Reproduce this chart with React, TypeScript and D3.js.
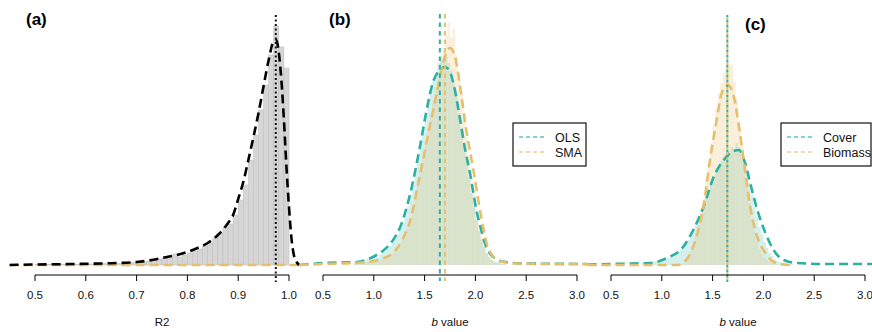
import * as d3 from "d3";

// ---- data ----

// (a) R2 histogram, bins of 0.01 starting at 0.50
const r2BinStart = 0.5;
const r2BinWidth = 0.01;
const r2Hist = [
  0.05, 0.05, 0.05, 0.05, 0.05, 0.05, 0.05, 0.1, 0.05, 0.1,
  0.1, 0.1, 0.1, 0.15, 0.1, 0.2, 0.15, 0.2, 0.2, 0.25,
  0.25, 0.3, 0.4, 0.5, 0.6, 0.7, 0.7, 1.1, 0.8, 1.0,
  1.2, 1.4, 1.6, 1.9, 2.2, 2.7, 3.2, 3.8, 4.1, 5.0,
  6.5, 8.0, 10.5, 13.0, 15.5, 18.0, 21.0, 23.9, 21.8, 19.7,
];
const r2DensX = [0.45, 0.5, 0.55, 0.6, 0.65, 0.7, 0.73, 0.76, 0.79, 0.82, 0.84, 0.86, 0.88, 0.89, 0.9, 0.91, 0.92, 0.93, 0.94, 0.95, 0.96, 0.97, 0.975, 0.98, 0.985, 0.99, 0.995, 1.0, 1.005, 1.01, 1.015, 1.02];
const r2DensY = [0, 0.05, 0.08, 0.12, 0.18, 0.3, 0.5, 0.8, 1.15, 1.7, 2.2, 3.0, 4.2, 5.0, 6.6, 8.3, 10.5, 12.8, 15.2, 17.9, 20.5, 22.4, 22.5, 21.2, 18.5, 14.5, 9.8, 5.8, 2.6, 0.9, 0.3, 0];
const r2Median = 0.974;

// (b) and (c) b-value histograms, bins of 0.025 starting at 0.80
const bBinStart = 0.8;
const bBinWidth = 0.025;
const olsHist = [
  0.03, 0.04, 0.03, 0.05, 0.04, 0.06, 0.05, 0.07, 0.08, 0.07,
  0.10, 0.12, 0.13, 0.17, 0.19, 0.22, 0.27, 0.30, 0.36, 0.42,
  0.50, 0.58, 0.70, 0.80, 0.94, 1.06, 1.22, 1.36, 1.50, 1.62,
  1.74, 1.86, 1.92, 2.02, 2.08, 2.04, 2.10, 2.02, 1.94, 1.82,
  1.70, 1.52, 1.36, 1.20, 1.04, 0.88, 0.72, 0.58, 0.46, 0.34,
  0.25, 0.18, 0.12, 0.08, 0.05, 0.04, 0.03, 0.02, 0.01, 0.01,
];
const smaHist = [
  0.01, 0.02, 0.01, 0.02, 0.02, 0.03, 0.03, 0.03, 0.04, 0.04,
  0.05, 0.06, 0.07, 0.08, 0.09, 0.11, 0.13, 0.16, 0.20, 0.25,
  0.30, 0.37, 0.45, 0.56, 0.68, 0.80, 0.94, 1.08, 1.22, 1.36,
  1.50, 1.64, 1.78, 1.90, 2.04, 2.14, 2.30, 2.42, 2.28, 2.36,
  2.10, 1.92, 1.72, 1.50, 1.28, 1.08, 0.88, 0.70, 0.54, 0.40,
  0.28, 0.19, 0.12, 0.08, 0.05, 0.03, 0.02, 0.02, 0.01, 0.01,
];
const coverHist = [
  0.02, 0.02, 0.03, 0.02, 0.03, 0.04, 0.04, 0.05, 0.05, 0.06,
  0.07, 0.08, 0.10, 0.11, 0.13, 0.15, 0.18, 0.21, 0.25, 0.29,
  0.34, 0.40, 0.46, 0.52, 0.58, 0.66, 0.74, 0.82, 0.88, 0.94,
  1.00, 1.04, 1.08, 1.12, 1.14, 1.18, 1.16, 1.22, 1.18, 1.12,
  1.04, 0.94, 0.82, 0.70, 0.58, 0.48, 0.38, 0.30, 0.23, 0.17,
  0.12, 0.09, 0.06, 0.04, 0.03, 0.02, 0.02, 0.01, 0.01, 0.01,
];
const biomassHist = [
  0, 0, 0, 0, 0, 0, 0, 0, 0, 0,
  0, 0, 0, 0, 0, 0.01, 0.02, 0.04, 0.08, 0.14,
  0.20, 0.30, 0.40, 0.52, 0.66, 0.84, 1.02, 1.22, 1.40, 1.56,
  1.72, 1.82, 1.92, 1.98, 2.02, 2.00, 1.84, 1.66, 1.44, 1.20,
  1.00, 0.80, 0.62, 0.46, 0.34, 0.24, 0.16, 0.11, 0.07, 0.05,
  0.03, 0.02, 0.01, 0.01, 0, 0, 0, 0, 0, 0,
];

const olsDensX = [0.27, 0.5, 0.83, 0.99, 1.1, 1.19, 1.26, 1.36, 1.45, 1.52, 1.58, 1.65, 1.7, 1.75, 1.8, 1.85, 1.9, 1.95, 2.01, 2.05, 2.1, 2.14, 2.2, 2.27, 2.47, 3.1];
const olsDensY = [0, 0.02, 0.03, 0.08, 0.15, 0.25, 0.38, 0.72, 1.16, 1.55, 1.82, 1.95, 1.98, 1.93, 1.74, 1.45, 1.15, 0.9, 0.55, 0.38, 0.2, 0.12, 0.06, 0.035, 0.015, 0.01];
const smaDensX = [0.27, 0.5, 0.8, 1.0, 1.1, 1.19, 1.28, 1.36, 1.45, 1.55, 1.62, 1.68, 1.75, 1.8, 1.85, 1.91, 1.98, 2.05, 2.11, 2.17, 2.21, 2.34, 2.6, 3.1];
const smaDensY = [0, 0.01, 0.02, 0.04, 0.07, 0.12, 0.25, 0.45, 0.88, 1.38, 1.72, 2.02, 2.17, 2.08, 1.78, 1.35, 0.95, 0.52, 0.22, 0.09, 0.05, 0.02, 0.01, 0.01];
const olsMean = 1.65;
const smaMean = 1.7;

const coverDensX = [0.27, 0.5, 0.7, 0.88, 1.05, 1.21, 1.31, 1.41, 1.51, 1.61, 1.69, 1.76, 1.82, 1.87, 1.94, 2.02, 2.1, 2.2, 2.33, 2.6, 3.1];
const coverDensY = [0.005, 0.01, 0.015, 0.02, 0.07, 0.18, 0.35, 0.58, 0.88, 1.05, 1.13, 1.15, 1.02, 0.82, 0.55, 0.32, 0.15, 0.05, 0.02, 0.01, 0.01];
const biomassDensX = [0.27, 1.15, 1.24, 1.34, 1.41, 1.47, 1.54, 1.59, 1.65, 1.71, 1.76, 1.81, 1.87, 1.94, 2.02, 2.1, 2.2, 2.28];
const biomassDensY = [0, 0, 0.05, 0.28, 0.58, 1.02, 1.45, 1.72, 1.8, 1.68, 1.38, 1.02, 0.58, 0.28, 0.12, 0.03, 0.005, 0];
const coverMean = 1.645;

const r2Ticks = [0.5, 0.6, 0.7, 0.8, 0.9, 1.0];
const bTicks = [0.5, 1.0, 1.5, 2.0, 2.5, 3.0];

const TEAL = "#2bb0a4";
const GOLD = "#e6bf6c";
const FONT = "'Liberation Sans', Arial, Helvetica, sans-serif";

const BASE_Y = 265;
const TOP_Y = 15;
const AXIS_Y = 275;

type Pt = [number, number];
const zip = (xs: number[], ys: number[]): Pt[] => xs.map((x, i) => [x, ys[i]]);

function Axis({ x, ticks, label, italicB }: { x: d3.ScaleLinear<number, number>; ticks: number[]; label: string; italicB?: boolean }) {
  const [x0, x1] = x.range();
  return (
    <g fontFamily={FONT} fontSize={11.5}>
      <line x1={x0} x2={x1} y1={AXIS_Y} y2={AXIS_Y} stroke="#000" strokeWidth={1} />
      {ticks.map((t) => (
        <g key={t}>
          <line x1={x(t)} x2={x(t)} y1={AXIS_Y} y2={AXIS_Y + 6} stroke="#000" strokeWidth={1} />
          <text x={x(t)} y={299} textAnchor="middle" fill="#111">
            {d3.format(".1f")(t)}
          </text>
        </g>
      ))}
      <text x={(x0 + x1) / 2} y={326} textAnchor="middle" fill="#111">
        {italicB ? (
          <>
            <tspan fontStyle="italic">b</tspan>
            {" value"}
          </>
        ) : (
          label
        )}
      </text>
    </g>
  );
}

function Hist({ x, y, start, width, values, fill, opacity = 1, stroke }: { x: d3.ScaleLinear<number, number>; y: d3.ScaleLinear<number, number>; start: number; width: number; values: number[]; fill: string; opacity?: number; stroke?: string }) {
  return (
    <g fillOpacity={opacity}>
      {values.map((v, i) => {
        const a = start + i * width;
        if (v <= 0) return null;
        return (
          <rect
            key={i}
            x={x(a)}
            y={y(v)}
            width={x(a + width) - x(a)}
            height={BASE_Y - y(v)}
            fill={fill}
            stroke={stroke ?? "none"}
            strokeWidth={stroke ? 0.5 : 0}
          />
        );
      })}
    </g>
  );
}

function Curve({ x, y, pts, color }: { x: d3.ScaleLinear<number, number>; y: d3.ScaleLinear<number, number>; pts: Pt[]; color: string }) {
  const line = d3
    .line<Pt>()
    .x((d) => x(d[0]))
    .y((d) => y(d[1]))
    .curve(d3.curveMonotoneX);
  return <path d={line(pts) ?? ""} fill="none" stroke={color} strokeWidth={2.6} strokeDasharray="9,5" />;
}

function Legend({ x, y, w, labels }: { x: number; y: number; w: number; labels: [string, string][] }) {
  return (
    <g fontFamily={FONT} fontSize={12.5}>
      <rect x={x} y={y} width={w} height={43} fill="#fff" stroke="#111" strokeWidth={1.2} />
      {labels.map(([name, color], i) => (
        <g key={name}>
          <line x1={x + 6} x2={x + 32} y1={y + 14 + i * 15} y2={y + 14 + i * 15} stroke={color} strokeWidth={1.4} strokeDasharray="4,3" opacity={0.75} />
          <text x={x + 42} y={y + 18.5 + i * 15} fill="#111">
            {name}
          </text>
        </g>
      ))}
    </g>
  );
}

export default function App() {
  const xa = d3.scaleLinear().domain([0.5, 1.0]).range([35, 289]);
  const xb = d3.scaleLinear().domain([0.5, 3.0]).range([323, 577]);
  const xc = d3.scaleLinear().domain([0.5, 3.0]).range([611, 865]);
  const ya = d3.scaleLinear().domain([0, 25]).range([BASE_Y, TOP_Y]);
  const yb = d3.scaleLinear().domain([0, 2.5]).range([BASE_Y, TOP_Y]);

  return (
    <svg width={872} height={332} style={{ position: "absolute", left: 0, top: 0, background: "#fff" }}>
      {/* (a) */}
      <Hist x={xa} y={ya} start={r2BinStart} width={r2BinWidth} values={r2Hist} fill="#d6d6d6" stroke="#bdbdbd" />
      <line x1={xa(0.45)} x2={xa(1.02)} y1={BASE_Y} y2={BASE_Y} stroke={GOLD} strokeWidth={2.6} strokeDasharray="9,5" />
      <Curve x={xa} y={ya} pts={zip(r2DensX, r2DensY)} color="#000" />
      <line x1={xa(r2Median)} x2={xa(r2Median)} y1={15} y2={282} stroke="#111" strokeWidth={2} strokeDasharray="2,2.5" />
      <Axis x={xa} ticks={r2Ticks} label="R2" />
      <text x={26} y={25} fontFamily={FONT} fontSize={17} fontWeight="bold">(a)</text>

      {/* (b) */}
      <Hist x={xb} y={yb} start={bBinStart} width={bBinWidth} values={olsHist} fill={TEAL} opacity={0.2} />
      <Hist x={xb} y={yb} start={bBinStart} width={bBinWidth} values={smaHist} fill={GOLD} opacity={0.25} />
      <Curve x={xb} y={yb} pts={zip(olsDensX, olsDensY)} color={TEAL} />
      <Curve x={xb} y={yb} pts={zip(smaDensX, smaDensY)} color={GOLD} />
      <line x1={xb(olsMean)} x2={xb(olsMean)} y1={14} y2={281} stroke={TEAL} strokeWidth={2} strokeDasharray="4.5,4" />
      <line x1={xb(smaMean)} x2={xb(smaMean)} y1={14} y2={281} stroke={GOLD} strokeWidth={2} strokeDasharray="4.5,4" />
      <Axis x={xb} ticks={bTicks} label="b value" italicB />
      <Legend x={513} y={123} w={73} labels={[["OLS", TEAL], ["SMA", GOLD]]} />
      <text x={329} y={25} fontFamily={FONT} fontSize={17} fontWeight="bold">(b)</text>

      {/* (c) */}
      <Hist x={xc} y={yb} start={bBinStart} width={bBinWidth} values={coverHist} fill={TEAL} opacity={0.2} />
      <Hist x={xc} y={yb} start={bBinStart} width={bBinWidth} values={biomassHist} fill={GOLD} opacity={0.25} />
      <Curve x={xc} y={yb} pts={zip(coverDensX, coverDensY)} color={TEAL} />
      <Curve x={xc} y={yb} pts={zip(biomassDensX, biomassDensY)} color={GOLD} />
      <line x1={xc(coverMean)} x2={xc(coverMean)} y1={15} y2={282} stroke={TEAL} strokeWidth={2} strokeDasharray="2.5,2.5" />
      <line x1={xc(coverMean)} x2={xc(coverMean)} y1={15} y2={282} stroke={GOLD} strokeWidth={2} strokeDasharray="2.5,2.5" strokeDashoffset={2.5} />
      <Axis x={xc} ticks={bTicks} label="b value" italicB />
      <Legend x={781} y={123} w={90} labels={[["Cover", TEAL], ["Biomass", GOLD]]} />
      <text x={745} y={30} fontFamily={FONT} fontSize={17} fontWeight="bold">(c)</text>
    </svg>
  );
}
